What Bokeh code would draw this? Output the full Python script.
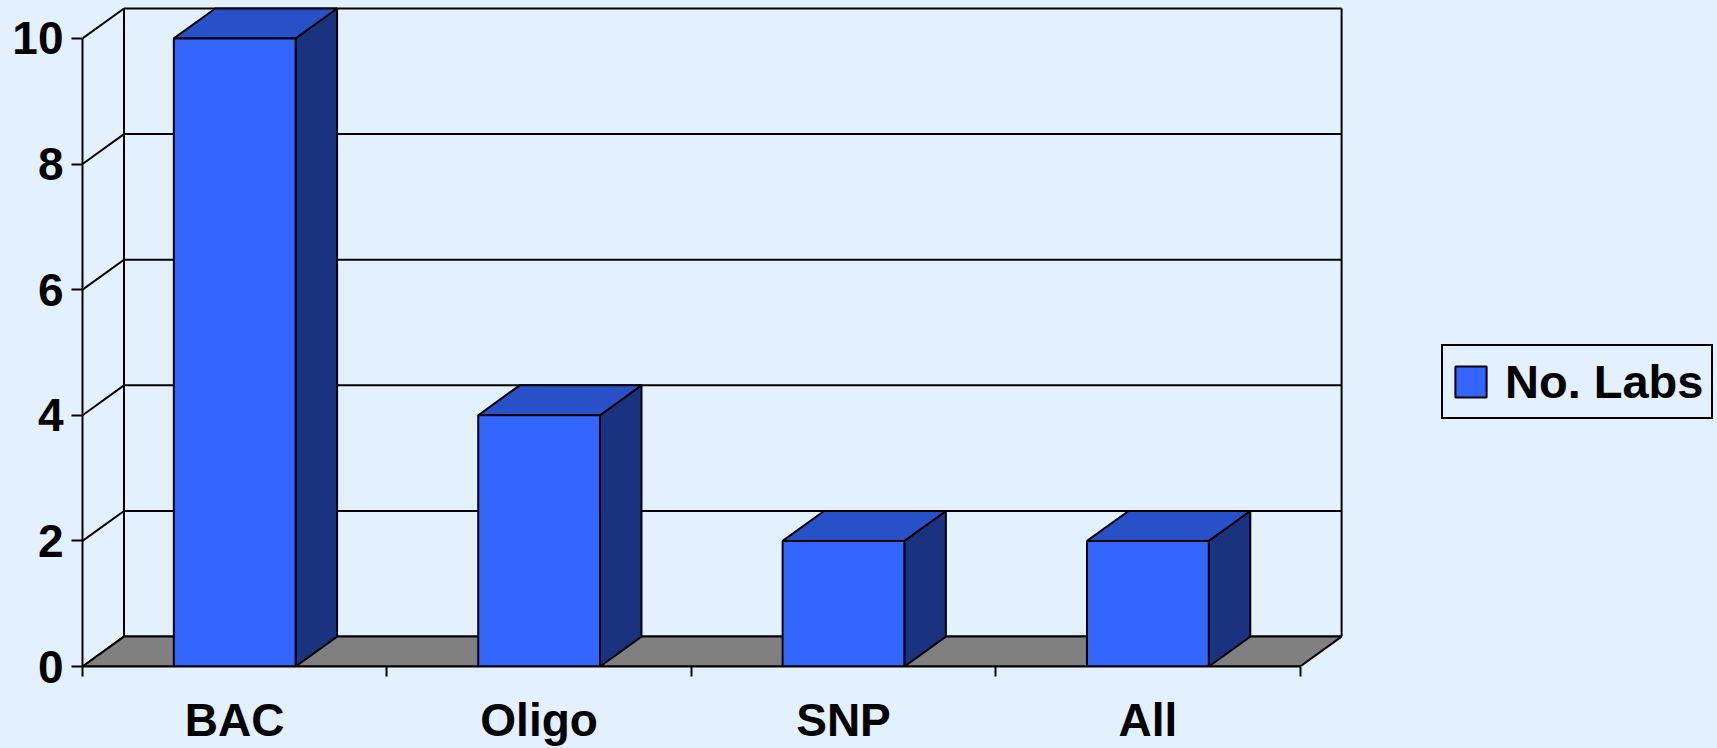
from bokeh.plotting import figure
from bokeh.models import Range1d, FixedTicker, Legend, LegendItem, ColumnDataSource
from bokeh.embed import file_html
from bokeh.resources import INLINE

# ---- data ----
categories = ["BAC", "Oligo", "SNP", "All"]
values = [10, 4, 2, 2]
y_ticks = [0, 2, 4, 6, 8, 10]
series_name = "No. Labs"

# ---- style ----
BG = "#E3F0FD"
FRONT = "#3366FF"
TOP = "#2850C8"
SIDE = "#1A3380"
FLOOR = "#808080"
FONT = "Liberation Sans"
FS = "46px"

W, H = 1717, 748
LEFT, BOTTOM = 82, 80
frame_w = W - LEFT
frame_h = H - BOTTOM
px_x = 304.4   # pixels per category
px_y = 63.0    # pixels per unit
DX = 41.5 / px_x   # depth offset in data units
DY = 30.0 / px_y
HALF = 0.2
n = len(categories)
ymax = max(y_ticks)

p = figure(width=W, height=H, output_backend="svg", toolbar_location=None,
           x_range=Range1d(0, frame_w / px_x), y_range=Range1d(0, frame_h / px_y),
           min_border_left=LEFT, min_border_bottom=BOTTOM, min_border_top=0, min_border_right=0,
           background_fill_color=BG, border_fill_color=BG, outline_line_color=None)
p.grid.visible = False

# back wall grid lines and edges
gx0 = [DX] * len(y_ticks)
gx1 = [n + DX] * len(y_ticks)
gy = [v + DY for v in y_ticks]
p.segment(x0=gx0, y0=gy, x1=gx1, y1=gy, line_color="black", line_width=2)
p.segment(x0=[DX, n + DX], y0=[DY, DY], x1=[DX, n + DX], y1=[ymax + DY, ymax + DY],
          line_color="black", line_width=2)
# side wall diagonals
p.segment(x0=[0] * len(y_ticks), y0=y_ticks, x1=[DX] * len(y_ticks), y1=gy,
          line_color="black", line_width=2)

# floor
p.patch(x=[0, n, n + DX, DX], y=[0, 0, DY, DY], fill_color=FLOOR,
        line_color="black", line_width=2)

# bars
xc = [i + 0.5 for i in range(n)]
src = ColumnDataSource(dict(left=[c - HALF for c in xc], right=[c + HALF for c in xc],
                            top=values, bottom=[0] * n))
top_xs = [[c - HALF, c + HALF, c + HALF + DX, c - HALF + DX] for c in xc]
top_ys = [[v, v, v + DY, v + DY] for v in values]
side_xs = [[c + HALF, c + HALF + DX, c + HALF + DX, c + HALF] for c in xc]
side_ys = [[0, DY, v + DY, v] for v in values]
p.patches(xs=side_xs, ys=side_ys, fill_color=SIDE, line_color="black", line_width=2)
p.patches(xs=top_xs, ys=top_ys, fill_color=TOP, line_color="black", line_width=2)
front = p.quad(left="left", right="right", top="top", bottom="bottom", source=src,
               fill_color=FRONT, line_color="black", line_width=2)

# axes
xa = p.xaxis[0]
xa.ticker = FixedTicker(ticks=xc, minor_ticks=list(range(n + 1)))
xa.major_label_overrides = {c: lab for c, lab in zip(xc, categories)}
xa.bounds = (0, n)
xa.major_tick_out = 0
xa.major_tick_in = 0
xa.minor_tick_out = 10
xa.minor_tick_in = 0
xa.minor_tick_line_color = "black"
xa.minor_tick_line_width = 2
xa.axis_line_width = 2
xa.axis_line_color = "black"
xa.major_label_standoff = 17
xa.major_label_text_line_height = 1.0
xa.major_label_text_font = FONT
xa.major_label_text_font_size = FS
xa.major_label_text_font_style = "bold"
xa.major_label_text_color = "black"

ya = p.yaxis[0]
ya.ticker = FixedTicker(ticks=y_ticks, minor_ticks=[])
ya.bounds = (0, ymax)
ya.major_tick_out = 11
ya.major_tick_in = 0
ya.major_tick_line_width = 2
ya.major_tick_line_color = "black"
ya.axis_line_width = 2
ya.axis_line_color = "black"
ya.major_label_standoff = 8
ya.major_label_text_font = FONT
ya.major_label_text_font_size = FS
ya.major_label_text_font_style = "bold"
ya.major_label_text_color = "black"

legend = Legend(items=[LegendItem(label=series_name, renderers=[front])],
                location=(1359, 247), padding=8, margin=0, label_standoff=15,
                glyph_width=39, glyph_height=39,
                label_text_font=FONT, label_text_font_size="47px", label_text_font_style="bold",
                label_text_line_height=1.0,
                label_text_color="black", border_line_color="black", border_line_width=2,
                border_line_alpha=1.0,
                background_fill_color=BG, background_fill_alpha=1.0)
p.add_layout(legend)

html = file_html(p, INLINE)
html = html.replace("</head>", "<style>body{background:%s;}</style></head>" % BG)
open("out.html", "w").write(html)
